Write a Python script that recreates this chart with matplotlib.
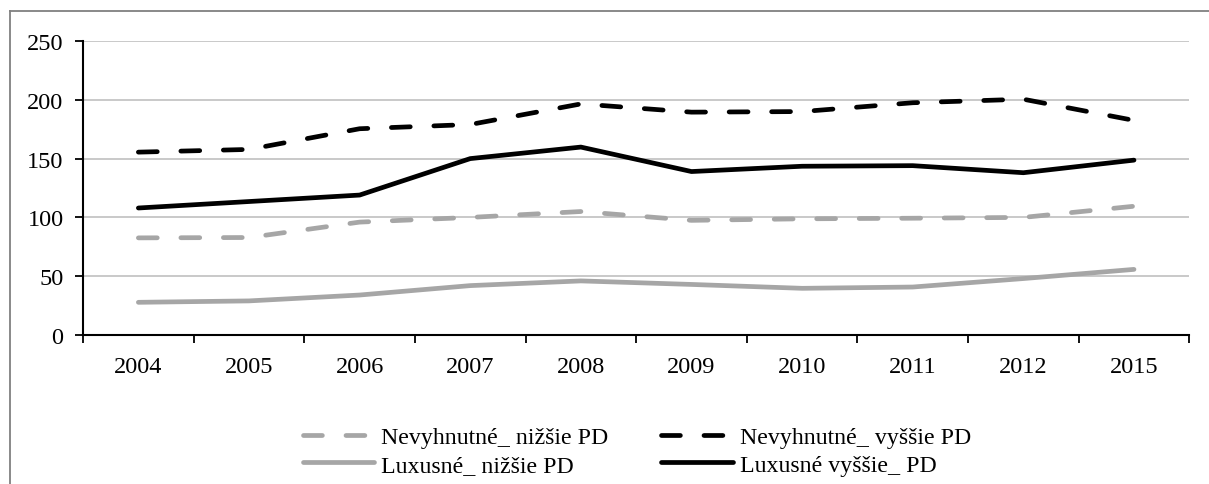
import matplotlib.pyplot as plt
from matplotlib.lines import Line2D

years = ["2004", "2005", "2006", "2007", "2008", "2009", "2010", "2011", "2012", "2015"]
nevyhnutne_nizsie = [82.6, 82.9, 96, 100, 105, 97.5, 98.8, 99.3, 100, 109.5]
nevyhnutne_vyssie = [155.5, 157.8, 175.4, 179, 196.5, 189.5, 190, 197.5, 200.5, 182.5]
luxusne_nizsie = [27.8, 29, 34, 42, 46, 43, 39.7, 40.8, 48, 55.8]
luxusne_vyssie = [108, 113.5, 119, 150, 159.8, 139, 143.5, 144, 138, 148.7]
y_ticks = [0, 50, 100, 150, 200, 250]

gray = "#a6a6a6"
lw = 3.4
dash = (4, 5)

plt.rcParams["font.family"] = ["Liberation Serif", "DejaVu Serif"]

fig = plt.figure(figsize=(12.09, 4.85), dpi=100)
ax = fig.add_axes([0.0687, 0.3072, 0.915, 0.6062])

x = range(len(years))
ax.plot(x, nevyhnutne_nizsie, color=gray, lw=lw, dashes=dash, dash_capstyle="round",
        label="Nevyhnutné_ nižšie PD")
ax.plot(x, nevyhnutne_vyssie, color="black", lw=lw, dashes=dash, dash_capstyle="round",
        label="Nevyhnutné_ vyššie PD")
ax.plot(x, luxusne_nizsie, color=gray, lw=lw, solid_capstyle="round", label="Luxusné_ nižšie PD")
ax.plot(x, luxusne_vyssie, color="black", lw=lw, solid_capstyle="round", label="Luxusné vyššie_ PD")

ax.set_xlim(-0.5, len(years) - 0.5)
ax.set_ylim(0, 250)
ax.set_yticks(y_ticks)
ax.yaxis.grid(True, color="#c0c0c0", lw=1.2)
ax.set_axisbelow(True)

ax.set_xticks([i - 0.5 for i in range(len(years) + 1)])
ax.set_xticklabels([])
ax.set_xticks(list(x), minor=True)
ax.set_xticklabels(years, minor=True)
ax.tick_params(axis="x", which="minor", length=0, pad=15, labelsize=17.5)
ax.tick_params(axis="x", which="major", length=6, width=1.3, direction="out")
ax.tick_params(axis="y", length=6, width=1.3, direction="out", pad=8, labelsize=17.5)

for side in ["top", "right"]:
    ax.spines[side].set_visible(False)
for side in ["left", "bottom"]:
    ax.spines[side].set_linewidth(1.5)

handles, labels = ax.get_legend_handles_labels()
order = [0, 2, 1, 3]
fig.legend([handles[i] for i in order], [labels[i] for i in order], ncol=2,
           loc="center", bbox_to_anchor=(637 / 1209, 1 - 452 / 485), frameon=False,
           fontsize=17.2, handlelength=3.0, handletextpad=0.3, columnspacing=2.2,
           labelspacing=0.26, borderpad=0)

# outer frame of the chart area
fig.add_artist(Line2D([10 / 1209, 1], [1 - 12 / 485, 1 - 12 / 485], color="#808080", lw=1.3,
                      transform=fig.transFigure))
fig.add_artist(Line2D([10 / 1209, 10 / 1209], [0, 1 - 12 / 485], color="#808080", lw=1.3,
                      transform=fig.transFigure))

fig.savefig("out.png", dpi=100)
